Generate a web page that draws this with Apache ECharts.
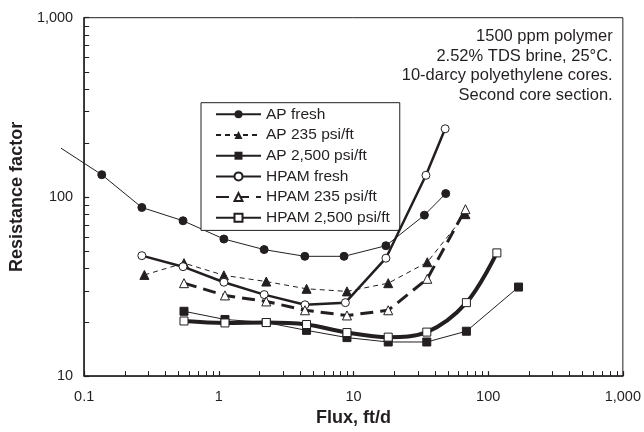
<!DOCTYPE html>
<html>
<head>
<meta charset="utf-8">
<script src="https://cdn.jsdelivr.net/npm/echarts@6/dist/echarts.min.js"></script>
<style>
html,body{margin:0;padding:0;background:#fff;}
#chart{width:644px;height:432px;}
</style>
</head>
<body>
<div id="chart"></div>
<script>
// ---- data (flux ft/d, resistance factor) ----
// the AP fresh curve starts with a line coming in from beyond the left axis
const apFreshLeadX = [0.0673];
const apFreshLeadY = [187];
const apFreshX = [0.135, 0.268, 0.542, 1.09, 2.17, 4.35, 8.5, 17.4, 33.6, 48.4];
const apFreshY = [133, 87.3, 73.6, 58.2, 50.8, 46.6, 46.6, 53.4, 79.1, 104.4];

const ap235X = [0.28, 0.551, 1.09, 2.25, 4.48, 8.94, 18.1, 35.3, 67.8];
const ap235Y = [36.7, 42.7, 36.5, 33.7, 30.7, 29.7, 33.0, 43.2, 80.1];

const ap2500X = [0.551, 1.11, 2.25, 4.48, 8.94, 18.1, 35.0, 68.9, 168];
const ap2500Y = [23.0, 20.7, 19.9, 18.0, 16.4, 15.5, 15.5, 17.8, 31.4];

const hpamFreshX = [0.268, 0.542, 1.09, 2.17, 4.36, 8.7, 17.4, 34.5, 47.9];
const hpamFreshY = [47.0, 40.8, 33.4, 28.5, 25.0, 25.7, 45.5, 132, 240];

const hpam235X = [0.551, 1.11, 2.25, 4.36, 8.94, 18.1, 35.3, 67.8];
const hpam235Y = [33.0, 28.2, 26.1, 23.3, 21.8, 23.3, 34.9, 85.4];

const hpam2500X = [0.551, 1.11, 2.25, 4.48, 8.94, 18.1, 35.0, 68.9, 116];
const hpam2500Y = [20.3, 19.8, 19.9, 19.4, 17.5, 16.5, 17.6, 25.7, 48.7];

const seriesNames = ['AP fresh', 'AP 235 psi/ft', 'AP 2,500 psi/ft', 'HPAM fresh', 'HPAM 235 psi/ft', 'HPAM 2,500 psi/ft'];

const xTickValues = [0.1, 1, 10, 100, 1000];
const xTickLabels = ['0.1', '1', '10', '100', '1,000'];
const yTickValues = [10, 100, 1000];
const yTickLabels = ['10', '100', '1,000'];
const xMinorTicks = [0.2,0.3,0.4,0.5,0.6,0.7,0.8,0.9, 2,3,4,5,6,7,8,9, 20,30,40,50,60,70,80,90, 200,300,400,500,600,700,800,900];
const yMinorTicks = [20,30,40,50,60,70,80,90, 200,300,400,500,600,700,800,900];

const notes = ['1500 ppm polymer', '2.52% TDS brine, 25\u00B0C.', '10-darcy polyethylene cores.', 'Second core section.'];
const xTitle = 'Flux, ft/d';
const yTitle = 'Resistance factor';

// ---- helpers ----
const FONT = "'Liberation Sans', Arial, Helvetica, sans-serif";
const INK = '#231f20';
function pairs(xs, ys) { return xs.map((x, i) => [x, ys[i]]); }
function labelFor(values, labels) {
  return function (v) {
    let best = 0, bd = Infinity;
    values.forEach((t, i) => { const d = Math.abs(Math.log10(v) - Math.log10(t)); if (d < bd) { bd = d; best = i; } });
    return bd < 0.01 ? labels[best] : '';
  };
}

const leadSegment = [[apFreshLeadX[0], apFreshLeadY[0], apFreshX[0], apFreshY[0]]];

const chart = echarts.init(document.getElementById('chart'), null, { renderer: 'canvas' });

const option = {
  animation: false,
  backgroundColor: '#fff',
  textStyle: { fontFamily: FONT, color: INK },
  grid: {
    left: 81, right: 18, top: 17.7, bottom: 54.3,
    show: true, borderColor: INK, borderWidth: 1, backgroundColor: 'transparent'
  },
  xAxis: {
    type: 'log', logBase: 10, min: 0.1, max: 1000, interval: 1,
    name: xTitle, nameLocation: 'middle', nameGap: 31,
    nameTextStyle: { fontFamily: FONT, fontSize: 18, fontWeight: 'bold', color: INK },
    axisLine: { show: true, onZero: false, lineStyle: { color: INK, width: 1.5 } },
    axisTick: { show: true, inside: true, length: 5, lineStyle: { color: INK, width: 1.2 } },
    axisLabel: { fontFamily: FONT, fontSize: 14.5, color: INK, margin: 13, formatter: labelFor(xTickValues, xTickLabels) },
    splitLine: { show: false }
  },
  yAxis: {
    type: 'log', logBase: 10, min: 10, max: 1000, interval: 1,
    name: yTitle, nameLocation: 'middle', nameGap: 58, nameRotate: 90,
    nameTextStyle: { fontFamily: FONT, fontSize: 18, fontWeight: 'bold', color: INK },
    axisLine: { show: true, onZero: false, lineStyle: { color: INK, width: 1.5 } },
    axisTick: { show: true, inside: true, length: 5, lineStyle: { color: INK, width: 1.2 } },
    axisLabel: { fontFamily: FONT, fontSize: 14.5, color: INK, margin: 11, formatter: labelFor(yTickValues, yTickLabels) },
    splitLine: { show: false }
  },
  legend: {
    data: seriesNames,
    orient: 'vertical',
    left: 201, top: 102.7,
    itemWidth: 45, itemHeight: 10, itemGap: 4.7,
    padding: [3.6, 10, 4.6, 14],
    borderColor: INK, borderWidth: 1, backgroundColor: '#fff',
    textStyle: { fontFamily: FONT, fontSize: 15.5, color: INK, lineHeight: 14 },
    selectedMode: false
  },
  graphic: [{
    type: 'text',
    right: 644 - 612.7,
    top: 27,
    style: {
      text: notes.join('\n'),
      font: '16.5px ' + FONT,
      fill: INK,
      textAlign: 'right',
      lineHeight: 19.5
    }
  }],
  series: [
    {
      name: seriesNames[0], type: 'line', data: pairs(apFreshX, apFreshY), z: 3,
      symbol: 'circle', symbolSize: 8,
      lineStyle: { color: INK, width: 1 },
      itemStyle: { color: INK, borderColor: INK }
    },
    {
      name: seriesNames[1], type: 'line', data: pairs(ap235X, ap235Y), z: 3,
      symbol: 'triangle', symbolSize: 9,
      lineStyle: { color: INK, width: 1, type: [5, 4] },
      itemStyle: { color: INK, borderColor: INK }
    },
    {
      name: seriesNames[2], type: 'line', data: pairs(ap2500X, ap2500Y), z: 3,
      symbol: 'rect', symbolSize: 8,
      lineStyle: { color: INK, width: 1 },
      itemStyle: { color: INK, borderColor: INK }
    },
    {
      name: seriesNames[3], type: 'line', data: pairs(hpamFreshX, hpamFreshY), z: 4,
      symbol: 'circle', symbolSize: 8,
      lineStyle: { color: INK, width: 2.5 },
      itemStyle: { color: '#fff', borderColor: INK, borderWidth: 1 }
    },
    {
      name: seriesNames[4], type: 'line', data: pairs(hpam235X, hpam235Y), z: 4,
      symbol: 'triangle', symbolSize: 9,
      lineStyle: { color: INK, width: 3, type: [13, 7] },
      itemStyle: { color: '#fff', borderColor: INK, borderWidth: 1 }
    },
    {
      name: seriesNames[5], type: 'line', data: pairs(hpam2500X, hpam2500Y), z: 4,
      smooth: 0.35,
      symbol: 'rect', symbolSize: 8,
      lineStyle: { color: INK, width: 4 },
      itemStyle: { color: '#fff', borderColor: INK, borderWidth: 1 }
    },
    {
      // lead-in segment of AP fresh, extending past the left axis
      type: 'custom', silent: true, clip: false, z: 2,
      data: leadSegment,
      dimensions: ['x1', 'y1', 'x2', 'y2'],
      encode: { x: [0, 2], y: [1, 3] },
      renderItem: function (params, api) {
        const a = api.coord([api.value(0), api.value(1)]);
        const b = api.coord([api.value(2), api.value(3)]);
        return { type: 'line', shape: { x1: a[0], y1: a[1], x2: b[0], y2: b[1] }, style: { stroke: INK, lineWidth: 1 } };
      }
    },
    {
      type: 'custom', silent: true, clip: false, z: 10,
      data: xMinorTicks.map(v => [v, 10]),
      renderItem: function (params, api) {
        const p = api.coord([api.value(0), 10]);
        const x = Math.round(p[0]) + 0.5;
        return { type: 'line', shape: { x1: x, y1: p[1], x2: x, y2: p[1] - 5 }, style: { stroke: INK, lineWidth: 1 } };
      }
    },
    {
      type: 'custom', silent: true, clip: false, z: 10,
      data: yMinorTicks.map(v => [0.1, v]),
      renderItem: function (params, api) {
        const p = api.coord([0.1, api.value(1)]);
        const y = Math.round(p[1]) + 0.5;
        return { type: 'line', shape: { x1: p[0], y1: y, x2: p[0] + 5, y2: y }, style: { stroke: INK, lineWidth: 1 } };
      }
    }
  ]
};
chart.setOption(option);
</script>
</body>
</html>
